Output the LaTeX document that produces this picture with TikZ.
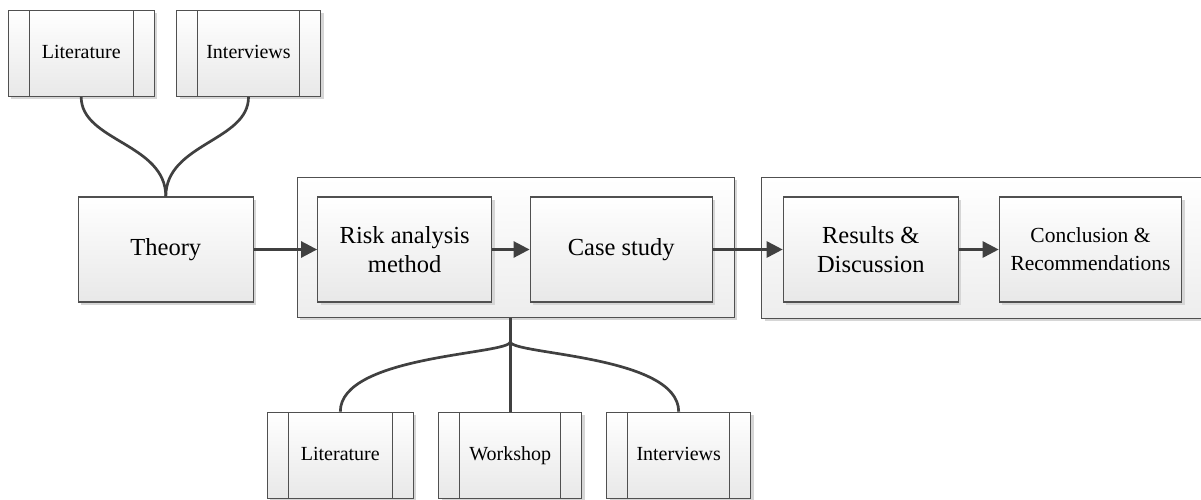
\documentclass[tikz,border=0pt]{standalone}
\usepackage{fontspec}
\setmainfont{Liberation Serif}
\usetikzlibrary{arrows.meta,shadows}
\definecolor{edge}{HTML}{505050}
\definecolor{conn}{HTML}{404040}
\tikzset{
  base/.style={draw=edge, line width=1.2pt, top color=white, bottom color=black!9,
    drop shadow={shadow xshift=3pt, shadow yshift=-3pt, fill=black!16, opacity=1},
    inner sep=0pt, align=center},
  bigbox/.style={base, minimum width=#1, minimum height=105pt, font=\fontsize{24.5}{29}\selectfont},
  contbox/.style={base, top color=white, bottom color=black!7},
  procbox/.style={base, minimum width=#1, minimum height=86pt, text height=14pt, text depth=4.5pt,
    font=\fontsize{20}{24}\selectfont,
    path picture={\draw[edge, line width=1.2pt]
      ([xshift=21pt]path picture bounding box.north west) -- ([xshift=21pt]path picture bounding box.south west)
      ([xshift=-21pt]path picture bounding box.north east) -- ([xshift=-21pt]path picture bounding box.south east);}},
  conline/.style={draw=conn, line width=2.7pt},
  arr/.style={conline, -{Triangle[length=16pt,width=16pt]}}
}
\begin{document}
\begin{tikzpicture}[x=1pt,y=-1pt]
\useasboundingbox (0,0) rectangle (1201,500);
% containers
\node[contbox, minimum width=437pt, minimum height=140pt] (cont1) at (515.8,247.3) {};
\node[contbox, minimum width=453pt, minimum height=141pt] (cont2) at (988,247.8) {};
% boxes
\node[procbox=146pt] (lit1) at (81.2,53.5) {Literature};
\node[procbox=144pt] (int1) at (248.5,53.5) {Interviews};
\node[bigbox=175pt] (theory) at (165.8,249.5) {Theory};
\node[bigbox=174pt] (risk) at (404.7,249.5) {Risk analysis\\method};
\node[bigbox=182pt] (case) at (621.2,249.5) {Case study};
\node[bigbox=175pt] (results) at (870.8,249.5) {Results \&\\Discussion};
\node[bigbox=182.4pt, font=\fontsize{21.5}{28}\selectfont] (concl) at (1090.5,249.5) {Conclusion \&\\Recommendations};
\node[procbox=146pt] (lit2) at (340.3,455.3) {Literature};
\node[procbox=143pt] (work) at (510.3,455.3) {Workshop};
\node[procbox=144pt] (int2) at (678.7,455.3) {Interviews};
% top connectors
\draw[conline] (lit1.south) .. controls +(0,44) and +(0,-53) .. (theory.north);
\draw[conline] (int1.south) .. controls +(0,44) and +(0,-53) .. (theory.north);
% bottom connectors
\coordinate (br) at (510.3,341.7);
\draw[conline] (br |- cont1.south) -- (br) -- (work.north);
\draw[conline] (br) .. controls +(0,13) and +(0,-57) .. (lit2.north);
\draw[conline] (br) .. controls +(0,13) and +(0,-57) .. (int2.north);
% arrows
\draw[arr] (theory.east) -- (risk.west);
\draw[arr] (risk.east) -- (case.west);
\draw[arr] (case.east) -- (results.west);
\draw[arr] (results.east) -- (concl.west);
\end{tikzpicture}
\end{document}
